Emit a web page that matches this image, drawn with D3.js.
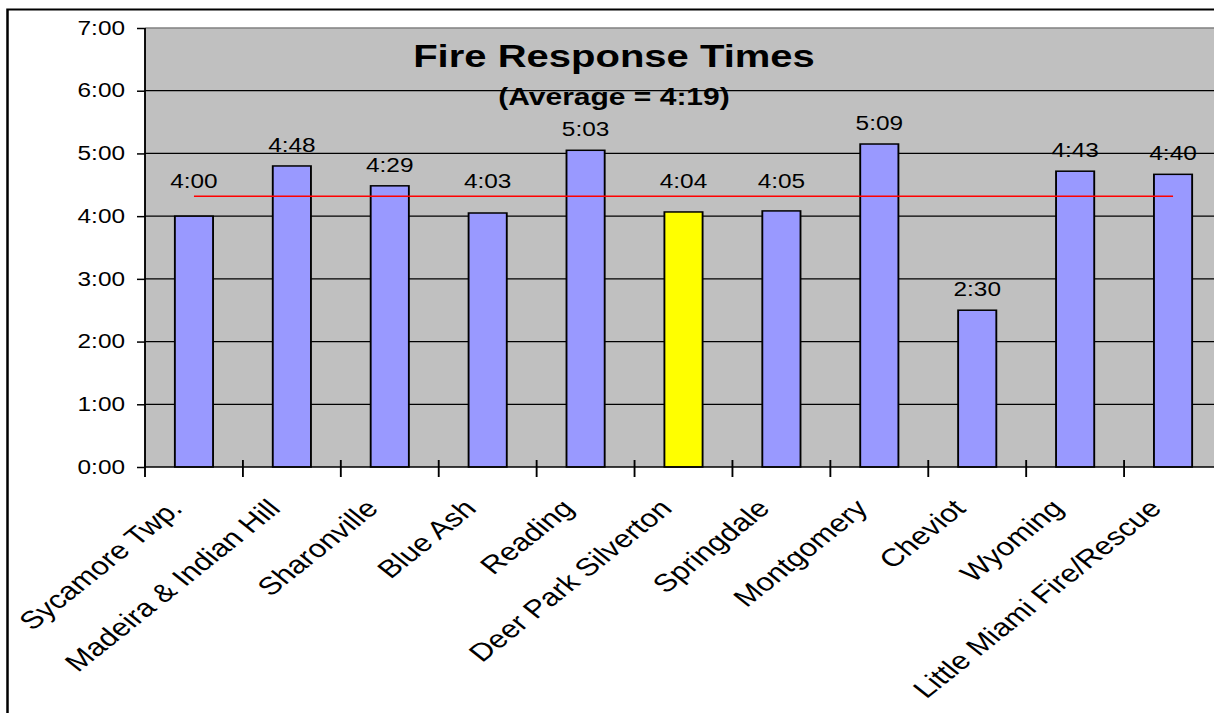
<!DOCTYPE html>
<html>
<head>
<meta charset="utf-8">
<script src="https://cdn.jsdelivr.net/npm/d3@7"></script>
<style>
  html, body { margin: 0; padding: 0; background: #fff; overflow: hidden; }
  svg { display: block; font-family: "Liberation Sans", Arial, sans-serif; }
</style>
</head>
<body>
<div id="chart"></div>
<script>
const departments = [
  'Sycamore Twp.', 'Madeira & Indian Hill', 'Sharonville', 'Blue Ash', 'Reading',
  'Deer Park Silverton', 'Springdale', 'Montgomery', 'Cheviot', 'Wyoming',
  'Little Miami Fire/Rescue'
];
const responseTimes = ['4:00', '4:48', '4:29', '4:03', '5:03', '4:04', '4:05', '5:09', '2:30', '4:43', '4:40'];
const highlighted = ['Deer Park Silverton'];
const averageTime = '4:19';
const yTickLabels = ['0:00', '1:00', '2:00', '3:00', '4:00', '5:00', '6:00', '7:00'];
const titleText = 'Fire Response Times';
const subtitleText = `(Average = ${averageTime})`;

const toMinutes = (s) => {
  const [m, sec] = s.split(':').map(Number);
  return m + sec / 60;
};

// the reference is stretched sideways, so draw narrow and let the viewBox widen it
const W = 1214, H = 713, stretch = 1.25;
const vw = W / stretch;
const sx = (px) => px / stretch;

const svg = d3.select('#chart').append('svg')
  .attr('width', W).attr('height', H)
  .attr('viewBox', `0 0 ${vw} ${H}`)
  .attr('preserveAspectRatio', 'none');

const plotTop = 28, plotBottom = 467;
const x = d3.scaleBand().domain(departments).range([sx(145), sx(1222)]);
const barX = d3.scaleBand().domain(departments).range(x.range()).paddingInner(0.61).paddingOuter(0.305);
const y = d3.scaleLinear().domain([0, 7]).range([plotBottom, plotTop]);
const rows = departments.map((name, i) => ({ name, label: responseTimes[i], value: toMinutes(responseTimes[i]) }));
const avg = toMinutes(averageTime);

// chart frame
svg.append('rect')
  .attr('x', sx(7.5)).attr('y', 9.5).attr('width', vw).attr('height', H)
  .attr('fill', '#fff').attr('stroke', '#000').attr('stroke-width', 2);

// plot area
svg.append('rect')
  .attr('x', x.range()[0]).attr('y', plotTop)
  .attr('width', x.range()[1] - x.range()[0]).attr('height', plotBottom - plotTop)
  .attr('fill', '#c0c0c0');

svg.append('g').selectAll('line').data(d3.range(1, 7)).join('line')
  .attr('x1', x.range()[0]).attr('x2', x.range()[1])
  .attr('y1', (d) => y(d)).attr('y2', (d) => y(d))
  .attr('stroke', '#000').attr('stroke-width', 1.2);

svg.append('line')
  .attr('x1', x.range()[0]).attr('x2', x.range()[1])
  .attr('y1', plotTop).attr('y2', plotTop)
  .attr('stroke', '#808080').attr('stroke-width', 1.6);

// titles sit inside the plot, the subtitle crosses the 6:00 gridline
svg.append('text')
  .attr('x', sx(614)).attr('y', 67)
  .attr('text-anchor', 'middle').attr('font-size', 32).attr('font-weight', 'bold')
  .text(titleText);
svg.append('text')
  .attr('x', sx(614)).attr('y', 105)
  .attr('text-anchor', 'middle').attr('font-size', 24).attr('font-weight', 'bold')
  .text(subtitleText);

// bars
svg.append('g').selectAll('rect').data(rows).join('rect')
  .attr('x', (d) => barX(d.name))
  .attr('y', (d) => y(d.value))
  .attr('width', barX.bandwidth())
  .attr('height', (d) => y(0) - y(d.value))
  .attr('fill', (d) => highlighted.includes(d.name) ? '#ffff00' : '#9999ff')
  .attr('stroke', '#000').attr('stroke-width', 1.5);

// average line, centre of first bar to centre of last
const cx = (name) => x(name) + x.bandwidth() / 2;
svg.append('line')
  .attr('x1', cx(departments[0])).attr('x2', cx(departments[departments.length - 1]))
  .attr('y1', y(avg)).attr('y2', y(avg))
  .attr('stroke', '#ff0000').attr('stroke-width', 1.6);

// y axis
const yAxis = svg.append('g')
  .attr('transform', `translate(${x.range()[0]},0)`)
  .call(d3.axisLeft(y).tickValues(d3.range(0, 8)).tickFormat((d) => yTickLabels[d])
    .tickSize(sx(8)).tickPadding(sx(12)));
yAxis.select('.domain').remove();
yAxis.selectAll('.tick line').attr('stroke', '#000').attr('stroke-width', 1.5);
yAxis.selectAll('.tick text')
  .attr('fill', '#000').attr('font-size', 19.5)
  .attr('font-family', '"Liberation Sans", Arial, sans-serif');
svg.append('line')
  .attr('x1', x.range()[0]).attr('x2', x.range()[0])
  .attr('y1', plotTop).attr('y2', plotBottom)
  .attr('stroke', '#000').attr('stroke-width', 1.5);

// x axis with ticks between categories
svg.append('line')
  .attr('x1', x.range()[0]).attr('x2', x.range()[1])
  .attr('y1', plotBottom).attr('y2', plotBottom)
  .attr('stroke', '#000').attr('stroke-width', 1.5);
svg.append('g').selectAll('line').data(d3.range(0, departments.length + 1)).join('line')
  .attr('x1', (i) => x.range()[0] + i * x.step())
  .attr('x2', (i) => x.range()[0] + i * x.step())
  .attr('y1', plotBottom - 7).attr('y2', plotBottom + 10)
  .attr('stroke', '#000').attr('stroke-width', 1.5);

svg.append('g').selectAll('text').data(departments).join('text')
  .attr('transform', (d) => `translate(${cx(d) - sx(10)},510) rotate(-45)`)
  .attr('text-anchor', 'end')
  .attr('font-size', 25)
  .attr('fill', '#000')
  .text((d) => d);

// value labels, lifted clear of the average line where they would touch it
const avgY = y(avg);
svg.append('g').selectAll('text').data(rows).join('text')
  .attr('x', (d) => cx(d.name))
  .attr('y', (d) => {
    const base = y(d.value) - 14;
    return (base > avgY - 8 && base - 14 < avgY + 4) ? avgY - 8 : base;
  })
  .attr('text-anchor', 'middle')
  .attr('font-size', 19.5)
  .attr('fill', '#000')
  .text((d) => d.label);
</script>
</body>
</html>
